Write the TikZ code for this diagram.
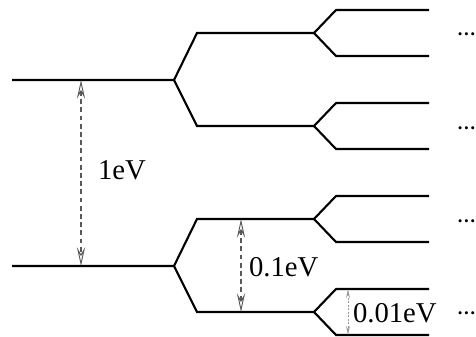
\documentclass[tikz,border=0pt]{standalone}
\usepackage{fontspec}
\setmainfont{Liberation Serif}
\usetikzlibrary{arrows.meta}
\begin{document}
\begin{tikzpicture}[x=0.03cm,y=-0.03cm,inner sep=0pt,outer sep=0pt,line width=1.8pt,
gap/.style={draw=black!65,line width=0.9pt,dash pattern=on 4pt off 3pt,
  {Stealth[open,length=16pt,width=7pt,inset=6pt,line width=0.8pt]}-{Stealth[open,length=16pt,width=7pt,inset=6pt,line width=0.8pt]}},
finegap/.style={draw=black!40,line width=0.7pt,dash pattern=on 1.5pt off 1.5pt,
  {Stealth[open,length=8pt,width=3.5pt,inset=3pt,line width=0.6pt]}-{Stealth[open,length=8pt,width=3.5pt,inset=3pt,line width=0.6pt]}},
lbl/.style={anchor=west,font=\fontsize{24.5}{28}\selectfont},
more/.style={anchor=base west,font=\fontsize{16}{18}\selectfont\bfseries}]
\useasboundingbox (0,0) rectangle (476,337);
% upper level
\coordinate (up0) at (12,80);    \coordinate (up) at (174,80);
\coordinate (upA) at (197,33);   \coordinate (upA1) at (314,33);
\coordinate (upB) at (197,126);  \coordinate (upB1) at (314,126);
\coordinate (upAa) at (336,10);  \coordinate (upAa1) at (429,10);
\coordinate (upAb) at (336,56);  \coordinate (upAb1) at (429,56);
\coordinate (upBa) at (336,103); \coordinate (upBa1) at (429,103);
\coordinate (upBb) at (336,149); \coordinate (upBb1) at (429,149);
% lower level
\coordinate (lo0) at (12,266);   \coordinate (lo) at (174,266);
\coordinate (loA) at (197,219);  \coordinate (loA1) at (314,219);
\coordinate (loB) at (197,312);  \coordinate (loB1) at (314,312);
\coordinate (loAa) at (336,196); \coordinate (loAa1) at (429,196);
\coordinate (loAb) at (336,242); \coordinate (loAb1) at (429,242);
\coordinate (loBa) at (336,289); \coordinate (loBa1) at (429,289);
\coordinate (loBb) at (336,335); \coordinate (loBb1) at (429,335);
\draw (up0) -- (up) -- (upA) -- (upA1) -- (upAa) -- (upAa1);
\draw (upA1) -- (upAb) -- (upAb1);
\draw (up) -- (upB) -- (upB1) -- (upBa) -- (upBa1);
\draw (upB1) -- (upBb) -- (upBb1);
\draw (lo0) -- (lo) -- (loA) -- (loA1) -- (loAa) -- (loAa1);
\draw (loA1) -- (loAb) -- (loAb1);
\draw (lo) -- (loB) -- (loB1) -- (loBa) -- (loBa1);
\draw (loB1) -- (loBb) -- (loBb1);
% splittings
\coordinate (g1a) at (81,80);    \coordinate (g1b) at (81,266);
\coordinate (g2a) at (241,219);  \coordinate (g2b) at (241,312);
\coordinate (g3a) at (348,289);  \coordinate (g3b) at (348,335);
\draw[gap] (g1a) -- (g1b);
\draw[gap] (g2a) -- (g2b);
\draw[finegap] (g3a) -- (g3b);
\node[lbl] (e1) at (98,170) {1eV};
\node[lbl] (e2) at (249,267) {0.1eV};
\node[lbl] (e3) at (353,313) {0.01eV};
\node[more] (dotsA) at (457,35) {…};
\node[more] (dotsB) at (457,129) {…};
\node[more] (dotsC) at (457,222) {…};
\node[more] (dotsD) at (457,314) {…};
\end{tikzpicture}
\end{document}
